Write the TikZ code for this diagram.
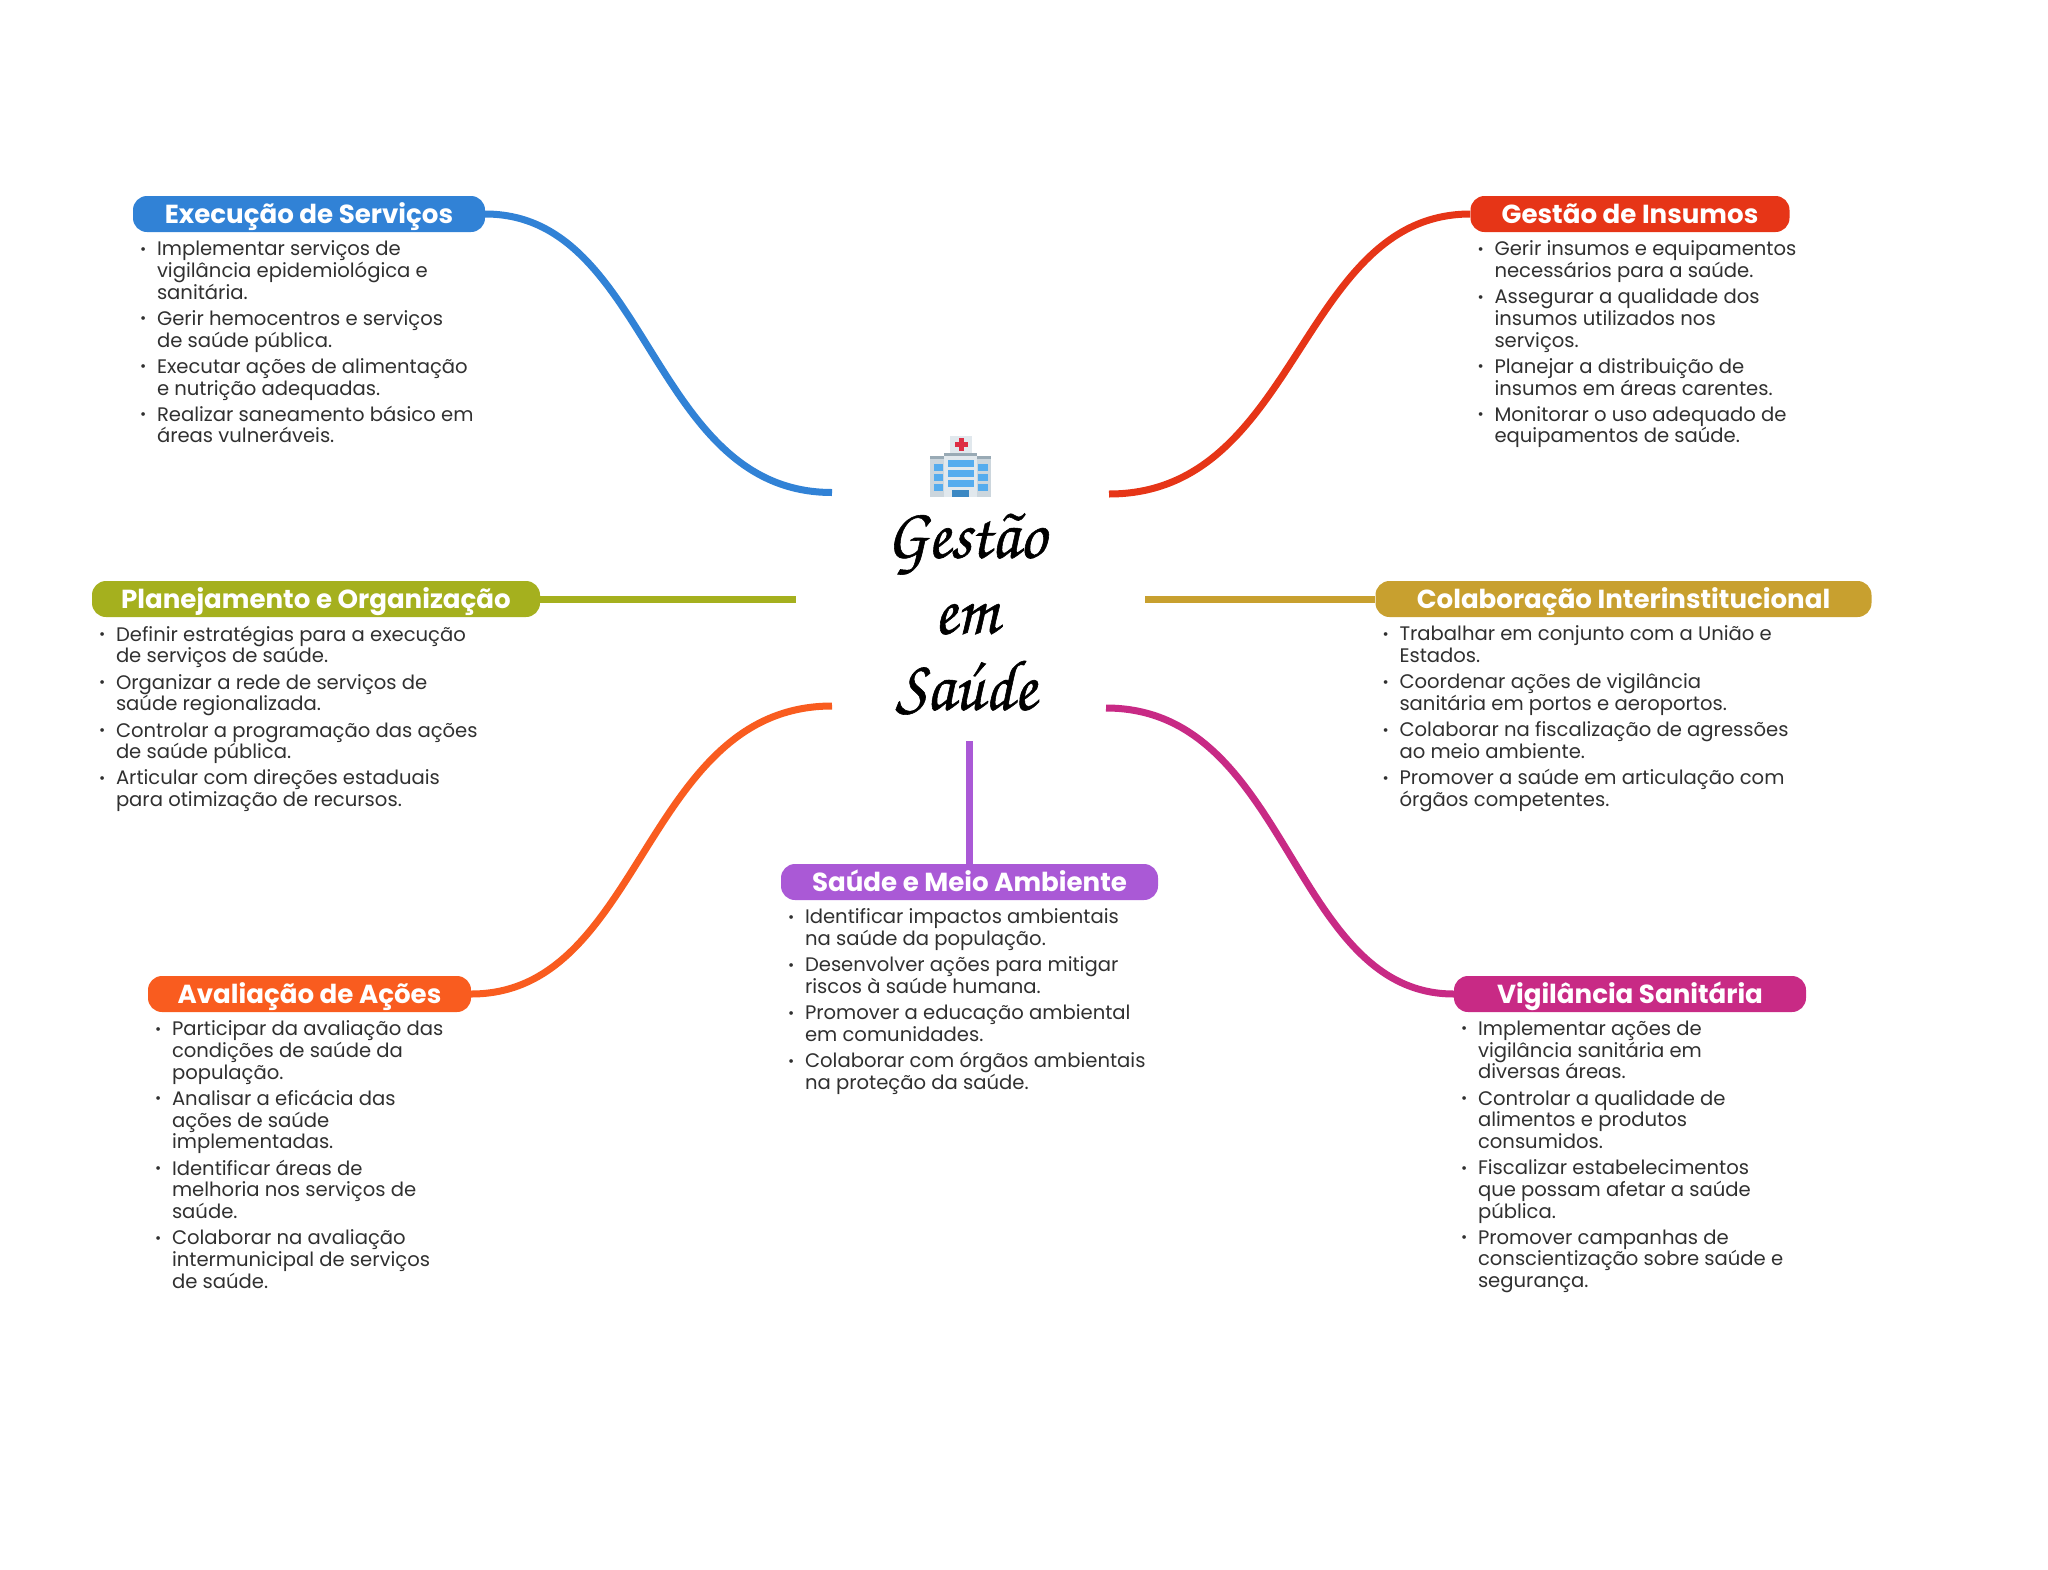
\documentclass[tikz,border=0pt]{standalone}
\usepackage{fontspec}
\setmainfont{Poppins}
\newfontfamily\titlefont[FakeStretch=0.92,FakeBold=0.8]{TeX Gyre Chorus}
\usetikzlibrary{positioning}
\definecolor{cExec}{HTML}{3182D6}
\definecolor{cInsu}{HTML}{E63517}
\definecolor{cPlan}{HTML}{A5B01E}
\definecolor{cCola}{HTML}{C8A02F}
\definecolor{cMeio}{HTML}{AA59D6}
\definecolor{cAval}{HTML}{F95C1F}
\definecolor{cVigi}{HTML}{C82A85}
\definecolor{cText}{HTML}{303030}
\definecolor{cBody}{HTML}{CCD6DD}
\definecolor{cLite}{HTML}{E1E8ED}
\definecolor{cBand}{HTML}{99AAB5}
\definecolor{cGlas}{HTML}{55ACEE}
\definecolor{cDoor}{HTML}{3B88C3}
\definecolor{cCross}{HTML}{DD2E44}
\newcommand{\itm}{\makebox[17pt][l]{\raisebox{1.5pt}{\fontsize{15}{15}\selectfont •}}}
\newcommand{\cnt}{\hspace*{17pt}}
\tikzset{
  pill/.style={fill=#1, rounded corners=14pt, text=white, minimum height=36pt, inner sep=0pt,
    text height=22pt, text depth=4pt, font=\fontsize{26.1}{26}\bfseries\selectfont},
  blist/.style={align=left, inner sep=0pt, text=cText, below right=8.5pt and 7pt of #1,
    font=\fontsize{19.6}{21.7}\selectfont},
  conn/.style={line width=7pt, color=#1}
}
\begin{document}
\begin{tikzpicture}[x=1pt, y=-1pt]
  \useasboundingbox (0,0) rectangle (2048,1569);

  \node [pill=cExec, minimum width=352pt] (exec) at (309,214) {Execução de Serviços};
  \node [pill=cInsu, minimum width=319pt] (insu) at (1630,214) {Gestão de Insumos};
  \node [pill=cPlan, minimum width=448pt] (plan) at (316,599) {Planejamento e Organização};
  \node [pill=cCola, minimum width=496pt] (cola) at (1623.5,599) {Colaboração Interinstitucional};
  \node [pill=cMeio, minimum width=377pt] (meio) at (969.5,882) {Saúde e Meio Ambiente};
  \node [pill=cAval, minimum width=323pt] (aval) at (309.5,994) {Avaliação de Ações};
  \node [pill=cVigi, minimum width=352pt] (vigi) at (1630,994) {Vigilância Sanitária};

  \node [blist=exec.south west] (execlist) {\itm Implementar serviços de\\ \cnt vigilância epidemiológica e\\ \cnt sanitária.\\[4.5pt]
    \itm Gerir hemocentros e serviços\\ \cnt de saúde pública.\\[4.5pt]
    \itm Executar ações de alimentação\\ \cnt e nutrição adequadas.\\[4.5pt]
    \itm Realizar saneamento básico em\\ \cnt áreas vulneráveis.};
  \node [blist=insu.south west] (insulist) {\itm Gerir insumos e equipamentos\\ \cnt necessários para a saúde.\\[4.5pt]
    \itm Assegurar a qualidade dos\\ \cnt insumos utilizados nos\\ \cnt serviços.\\[4.5pt]
    \itm Planejar a distribuição de\\ \cnt insumos em áreas carentes.\\[4.5pt]
    \itm Monitorar o uso adequado de\\ \cnt equipamentos de saúde.};
  \node [blist=plan.south west] (planlist) {\itm Definir estratégias para a execução\\ \cnt de serviços de saúde.\\[4.5pt]
    \itm Organizar a rede de serviços de\\ \cnt saúde regionalizada.\\[4.5pt]
    \itm Controlar a programação das ações\\ \cnt de saúde pública.\\[4.5pt]
    \itm Articular com direções estaduais\\ \cnt para otimização de recursos.};
  \node [blist=cola.south west] (colalist) {\itm Trabalhar em conjunto com a União e\\ \cnt Estados.\\[4.5pt]
    \itm Coordenar ações de vigilância\\ \cnt sanitária em portos e aeroportos.\\[4.5pt]
    \itm Colaborar na fiscalização de agressões\\ \cnt ao meio ambiente.\\[4.5pt]
    \itm Promover a saúde em articulação com\\ \cnt órgãos competentes.};
  \node [blist=meio.south west] (meiolist) {\itm Identificar impactos ambientais\\ \cnt na saúde da população.\\[4.5pt]
    \itm Desenvolver ações para mitigar\\ \cnt riscos à saúde humana.\\[4.5pt]
    \itm Promover a educação ambiental\\ \cnt em comunidades.\\[4.5pt]
    \itm Colaborar com órgãos ambientais\\ \cnt na proteção da saúde.};
  \node [blist=aval.south west] (avallist) {\itm Participar da avaliação das\\ \cnt condições de saúde da\\ \cnt população.\\[4.5pt]
    \itm Analisar a eficácia das\\ \cnt ações de saúde\\ \cnt implementadas.\\[4.5pt]
    \itm Identificar áreas de\\ \cnt melhoria nos serviços de\\ \cnt saúde.\\[4.5pt]
    \itm Colaborar na avaliação\\ \cnt intermunicipal de serviços\\ \cnt de saúde.};
  \node [blist=vigi.south west] (vigilist) {\itm Implementar ações de\\ \cnt vigilância sanitária em\\ \cnt diversas áreas.\\[4.5pt]
    \itm Controlar a qualidade de\\ \cnt alimentos e produtos\\ \cnt consumidos.\\[4.5pt]
    \itm Fiscalizar estabelecimentos\\ \cnt que possam afetar a saúde\\ \cnt pública.\\[4.5pt]
    \itm Promover campanhas de\\ \cnt conscientização sobre saúde e\\ \cnt segurança.};

  % centre
  \node [align=center, inner sep=0pt, font=\fontsize{72}{76}\titlefont\selectfont] (titulo) at (966,614) {Gestão\\em\\Saúde};
  \fill [cLite] (950,436) rectangle (972,453);
  \fill [cCross] (958.5,438) rectangle (963.5,451);
  \fill [cCross] (954.5,442) rectangle (967.5,447);
  \fill [cBody] (930,456) rectangle (991,497);
  \fill [cBand] (930,456) rectangle (991,459);
  \fill [cLite] (944,453) rectangle (977,497);
  \fill [cBand] (944,453) rectangle (977,456);
  \foreach \yw in {464,474,484} {
    \fill [cGlas] (934,\yw) rectangle (943,\yw+7);
    \fill [cGlas] (978,\yw) rectangle (988,\yw+7);
  }
  \foreach \yw in {460,470,480}
    \fill [cGlas] (948,\yw) rectangle (974,\yw+7);
  \fill [cDoor] (952,490) rectangle (969,497);

  \coordinate (eExec) at (832,492.5);
  \coordinate (eInsu) at (1109,494);
  \coordinate (ePlan) at (796,599);
  \coordinate (eCola) at (1145,599);
  \coordinate (eMeio) at (969.5,741);
  \coordinate (eAval) at (832,706);
  \coordinate (eVigi) at (1106,708);

  \draw [conn=cExec] (exec.east) .. controls (650,214) and (650,492.5) .. (eExec);
  \draw [conn=cInsu] (insu.west) .. controls (1299,214) and (1299,494) .. (eInsu);
  \draw [conn=cPlan] (plan.east) -- (ePlan);
  \draw [conn=cCola] (cola.west) -- (eCola);
  \draw [conn=cMeio] (meio.north) -- (eMeio);
  \draw [conn=cAval] (aval.east) .. controls (643,994) and (643,706) .. (eAval);
  \draw [conn=cVigi] (vigi.west) .. controls (1290,994) and (1290,708) .. (eVigi);
\end{tikzpicture}
\end{document}
